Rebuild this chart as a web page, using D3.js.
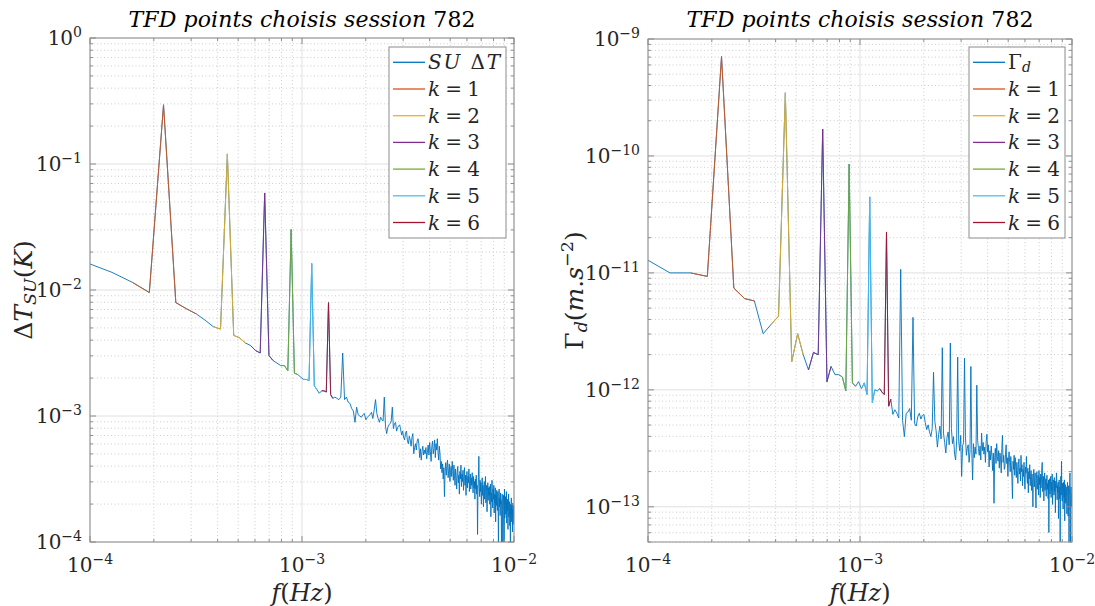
<!DOCTYPE html>
<html>
<head>
<meta charset="utf-8">
<script src="https://cdn.jsdelivr.net/npm/d3@7"></script>
<style>
  body { margin: 0; background: #fff; }
  svg text { fill: #262626; white-space: pre; }
</style>
</head>
<body>
<div id="chart"></div>
<script>
// FFT bins: frequency = bin * freqStep, first plotted bin is firstBin
var freqStep = 3.175e-5;
var firstBin = 3;

// log10 of the amplitude, one value per bin (bins 3 .. 315)
var deltaTLog = [
  -1.78,-1.86,-1.94,-2.02,-0.53,-2.10,-2.15,-2.19,-2.24,-2.29,
  -2.31,-0.92,-2.36,-2.38,-2.42,-2.44,-2.48,-2.50,-1.23,-2.52,
  -2.56,-2.58,-2.60,-2.60,-2.64,-1.52,-2.66,-2.67,-2.69,-2.71,
  -2.71,-2.72,-1.79,-2.76,-2.79,-2.82,-2.80,-2.80,-2.81,-2.10,
  -2.83,-2.86,-2.85,-2.86,-2.87,-2.85,-2.50,-2.87,-2.85,-2.89,
  -2.90,-2.94,-2.96,-3.05,-2.93,-2.99,-3.00,-3.01,-2.99,-2.98,
  -3.03,-3.01,-3.00,-2.99,-2.97,-3.02,-2.95,-2.87,-2.98,-3.02,
  -3.05,-3.01,-3.03,-3.04,-2.85,-3.08,-3.14,-3.09,-3.07,-3.06,
  -3.04,-2.93,-3.10,-3.06,-3.05,-3.12,-3.09,-3.08,-3.07,-3.11,
  -3.15,-3.12,-3.17,-3.19,-3.13,-3.12,-3.20,-3.22,-3.16,-3.19,
  -3.24,-3.17,-3.14,-3.30,-3.25,-3.22,-3.27,-3.20,-3.18,-3.22,
  -3.33,-3.26,-3.35,-3.28,-3.24,-3.31,-3.27,-3.30,-3.25,-3.34,
  -3.29,-3.23,-3.31,-3.21,-3.28,-3.36,-3.24,-3.20,-3.30,-3.26,
  -3.19,-3.33,-3.22,-3.27,-3.18,-3.29,-3.35,-3.24,-3.30,-3.42,
  -3.36,-3.45,-3.38,-3.50,-3.41,-3.64,-3.44,-3.37,-3.47,-3.40,
  -3.35,-3.49,-3.43,-3.38,-3.52,-3.45,-3.40,-3.48,-3.36,-3.44,
  -3.51,-3.39,-3.47,-3.55,-3.42,-3.48,-3.58,-3.45,-3.40,-3.53,
  -3.47,-3.62,-3.44,-3.50,-3.39,-3.56,-3.46,-3.52,-3.43,-3.59,
  -3.49,-3.41,-3.55,-3.47,-3.63,-3.50,-3.44,-3.57,-3.48,-3.53,
  -3.42,-3.60,-3.51,-3.46,-3.58,-3.49,-3.55,-3.45,-3.54,-3.61,
  -3.48,-3.57,-3.52,-3.66,-3.50,-3.58,-3.47,-3.62,-3.55,-3.94,
  -3.58,-3.49,-3.32,-3.56,-3.64,-3.51,-3.60,-3.53,-3.70,-3.57,
  -3.49,-3.63,-3.55,-3.72,-3.59,-3.52,-3.66,-3.58,-3.48,-3.69,
  -3.61,-3.55,-3.76,-3.60,-3.53,-3.67,-3.57,-3.63,-3.56,-3.70,
  -3.62,-3.54,-3.80,-3.61,-3.68,-3.51,-3.64,-3.73,-3.58,-3.66,
  -3.55,-3.77,-3.62,-3.69,-3.57,-3.84,-3.63,-3.71,-3.59,-3.68,
  -3.75,-3.60,-3.66,-4.05,-3.64,-3.58,-3.72,-3.65,-3.79,-3.61,
  -3.70,-3.67,-4.08,-3.69,-3.62,-3.74,-4.12,-3.68,-3.63,-3.76,
  -4.10,-3.58,-3.81,-3.70,-3.64,-3.78,-3.72,-3.60,-3.85,-3.69,
  -3.75,-3.66,-3.90,-3.71,-3.62,-3.80,-3.74,-3.68,-3.87,-3.73,
  -4.15,-3.70,-3.78,-3.65,-3.84,-3.76,-3.69,-3.92,-3.74,-3.80,
  -3.71,-3.86,-3.79
];

var gammaLog = [
  -10.87,-11.00,-11.00,-11.03,-9.15,-11.13,-11.22,-11.24,-11.52,-11.44,
  -11.37,-9.46,-11.76,-11.52,-11.70,-11.83,-11.68,-11.70,-9.77,-11.93,
  -11.80,-11.87,-11.87,-11.89,-12.01,-10.07,-11.94,-11.97,-11.93,-11.99,
  -11.94,-12.04,-10.35,-12.11,-12.00,-12.01,-11.99,-12.02,-12.04,-10.65,
  -12.14,-12.08,-12.21,-12.17,-12.20,-12.24,-10.97,-12.26,-12.40,-12.20,
  -12.19,-12.16,-12.26,-11.38,-12.29,-12.31,-12.23,-12.20,-12.25,-12.22,
  -12.21,-12.28,-12.34,-12.30,-12.36,-12.40,-12.33,-11.85,-12.27,-12.35,
  -12.49,-12.38,-12.31,-12.42,-11.64,-12.37,-12.45,-12.54,-12.41,-12.36,
  -12.47,-11.60,-12.33,-12.46,-12.40,-12.55,-12.60,-12.43,-11.72,-12.44,
  -12.52,-12.39,-12.74,-12.48,-12.45,-11.73,-12.40,-12.56,-12.50,-12.47,
  -12.62,-12.53,-11.80,-12.51,-12.77,-12.46,-12.58,-12.49,-12.55,-11.96,
  -12.43,-12.50,-12.56,-12.48,-12.60,-12.37,-12.52,-12.45,-12.55,-12.49,
  -12.62,-12.44,-12.38,-12.53,-12.47,-12.66,-12.52,-12.60,-12.48,-12.57,
  -12.69,-12.54,-12.97,-12.58,-12.50,-12.63,-12.46,-12.57,-12.61,-12.52,
  -12.67,-12.54,-12.59,-12.71,-12.50,-12.39,-12.62,-12.56,-12.68,-12.66,
  -12.55,-12.47,-12.63,-12.58,-12.74,-12.60,-12.53,-12.62,-12.70,-12.57,
  -12.65,-12.76,-12.93,-12.61,-12.68,-12.56,-12.73,-12.58,-12.66,-12.75,
  -12.62,-12.69,-12.80,-12.64,-12.59,-12.72,-12.67,-12.78,-12.56,-12.70,
  -12.64,-12.82,-12.68,-12.74,-12.62,-12.77,-12.85,-12.66,-12.71,-12.57,
  -12.73,-12.80,-12.67,-12.88,-12.70,-12.76,-12.64,-12.82,-12.74,-12.69,
  -12.86,-12.72,-12.79,-13.00,-12.75,-12.68,-12.83,-12.77,-12.71,-12.88,
  -13.01,-12.76,-12.70,-12.85,-12.79,-12.73,-12.90,-12.69,-12.81,-12.75,
  -12.92,-12.72,-12.84,-12.78,-12.66,-12.62,-12.87,-12.80,-12.74,-12.95,
  -12.79,-12.71,-12.86,-12.82,-12.76,-12.91,-12.78,-12.73,-12.85,-12.80,
  -12.93,-12.77,-13.22,-12.84,-12.76,-12.89,-12.81,-12.74,-12.92,-12.79,
  -12.86,-12.72,-12.98,-12.83,-12.77,-12.80,-12.90,-12.75,-12.87,-12.81,
  -13.05,-12.78,-12.84,-12.71,-12.76,-12.94,-12.82,-12.88,-12.79,-13.10,
  -12.85,-12.77,-12.93,-12.83,-13.30,-12.86,-12.74,-12.90,-12.61,-12.84,
  -12.95,-12.80,-12.88,-13.02,-12.79,-12.86,-12.92,-12.77,-13.12,-12.85,
  -12.81,-12.97,-12.88,-12.83,-12.91,-13.06,-12.84,-12.79,-12.93,-13.08,
  -12.87,-12.82,-13.35,-12.90,-12.84,-12.71,-12.95,-13.32,-12.89,-12.83,
  -13.00,-12.92,-12.88
];

// bins drawn in colour around each harmonic k
var harmonicK = [1, 2, 3, 4, 5, 6];
var harmonicFrom = [5, 12, 18, 25, 32, 39];
var harmonicTo = [10, 17, 23, 30, 37, 44];
var harmonicColors = ["#D95319", "#EDB120", "#7E2F8E", "#77AC30", "#4DBEEE", "#A2142F"];
var mainColor = "#0072BD";

// tick labels are 10^exp
var xTickExp = [-4, -3, -2];
var leftTickExp = [-4, -3, -2, -1, 0];
var rightTickExp = [-13, -12, -11, -10, -9];

var titleText = "TFD points choisis session 782";
var xLabelText = "f(Hz)";
var leftYLabel = "ΔT_{SU}(K)";
var rightYLabel = "Γ_{d}(m.s^{−2})";
var leftSeriesName = "SU ΔT";
var rightSeriesName = "Γ_{d}";

var axisColor = "#8c8c8c";
var serif = "'DejaVu Serif', 'Liberation Serif', 'Noto Serif', serif";

var svg = d3.select("#chart").append("svg")
  .attr("width", 1095)
  .attr("height", 606)
  .attr("font-family", serif);

// latex-like text: letters italic, the rest upright, _{..} and ^{..}
function mathText(sel, str, size) {
  var shift = 0;
  sel.attr("font-family", serif);
  var re = /([_^])\{([^}]*)\}|([^_^]+)/g, m;
  while ((m = re.exec(str)) !== null) {
    var part = m[1] ? m[2] : m[3];
    var fs = m[1] ? size * 0.7 : size;
    var target = m[1] === "^" ? -0.4 * size : (m[1] === "_" ? 0.15 * size : 0);
    part.match(/[A-Za-z]+|[^A-Za-z]+/g).forEach(function(b, i) {
      var ts = sel.append("tspan")
        .attr("font-size", fs)
        .attr("font-style", /[A-Za-z]/.test(b) ? "italic" : "normal")
        .text(b);
      if (i === 0 && target !== shift) {
        ts.attr("dy", target - shift);
        shift = target;
      }
    });
  }
  return sel;
}

var panels = [
  { left: 90, right: 514, top: 38, bottom: 542, yMin: 1e-4, yMax: 1,
    values: deltaTLog, yTicks: leftTickExp, yLabel: leftYLabel, yLabelX: 32,
    name: leftSeriesName, nameLen: 72, legendX: 389, legendW: 117 },
  { left: 648, right: 1072, top: 39, bottom: 542, yMin: 5e-14, yMax: 1e-9,
    values: gammaLog, yTicks: rightTickExp, yLabel: rightYLabel, yLabelX: 583,
    name: rightSeriesName, nameLen: null, legendX: 969, legendW: 96 }
];

panels.forEach(function(p, n) {
  var x = d3.scaleLog().domain([1e-4, 1e-2]).range([p.left, p.right]);
  var y = d3.scaleLog().domain([p.yMin, p.yMax]).range([p.bottom, p.top]);
  var cx = (p.left + p.right) / 2, cy = (p.top + p.bottom) / 2;
  var g = svg.append("g");

  var isMajor = function(v) {
    var l = Math.log10(v);
    return Math.abs(l - Math.round(l)) < 1e-6;
  };
  var xt = x.ticks(), yt = y.ticks();

  // grid, minor dotted then major solid
  var grid = g.append("g");
  [false, true].forEach(function(major) {
    xt.filter(function(t) { return isMajor(t) === major; }).forEach(function(t) {
      grid.append("line")
        .attr("x1", x(t)).attr("x2", x(t)).attr("y1", p.top).attr("y2", p.bottom)
        .attr("stroke", major ? "#e0e0e0" : "#cdcdcd")
        .attr("stroke-dasharray", major ? null : "1,2.5");
    });
    yt.filter(function(t) { return isMajor(t) === major; }).forEach(function(t) {
      grid.append("line")
        .attr("x1", p.left).attr("x2", p.right).attr("y1", y(t)).attr("y2", y(t))
        .attr("stroke", major ? "#e0e0e0" : "#cdcdcd")
        .attr("stroke-dasharray", major ? null : "1,2.5");
    });
  });

  // spectrum
  var pts = p.values.map(function(v, i) {
    return { f: (firstBin + i) * freqStep, a: Math.pow(10, v) };
  });
  var line = d3.line().x(function(d) { return x(d.f); }).y(function(d) { return y(d.a); });

  g.append("clipPath").attr("id", "clip" + n)
    .append("rect")
    .attr("x", p.left).attr("y", p.top)
    .attr("width", p.right - p.left).attr("height", p.bottom - p.top);
  var plot = g.append("g").attr("clip-path", "url(#clip" + n + ")");

  plot.append("path").datum(pts)
    .attr("d", line).attr("fill", "none")
    .attr("stroke", mainColor).attr("stroke-width", 0.9);

  harmonicK.forEach(function(k, j) {
    plot.append("path")
      .datum(pts.slice(harmonicFrom[j] - firstBin, harmonicTo[j] - firstBin + 1))
      .attr("d", line).attr("fill", "none")
      .attr("stroke", harmonicColors[j]).attr("stroke-width", 0.9);
  });

  // box and ticks (inside, on all four sides)
  g.append("rect")
    .attr("x", p.left).attr("y", p.top)
    .attr("width", p.right - p.left).attr("height", p.bottom - p.top)
    .attr("fill", "none").attr("stroke", axisColor);
  xt.forEach(function(t) {
    var len = isMajor(t) ? 6 : 3;
    g.append("line").attr("x1", x(t)).attr("x2", x(t)).attr("y1", p.bottom).attr("y2", p.bottom - len).attr("stroke", axisColor);
    g.append("line").attr("x1", x(t)).attr("x2", x(t)).attr("y1", p.top).attr("y2", p.top + len).attr("stroke", axisColor);
  });
  yt.forEach(function(t) {
    var len = isMajor(t) ? 6 : 3;
    g.append("line").attr("x1", p.left).attr("x2", p.left + len).attr("y1", y(t)).attr("y2", y(t)).attr("stroke", axisColor);
    g.append("line").attr("x1", p.right).attr("x2", p.right - len).attr("y1", y(t)).attr("y2", y(t)).attr("stroke", axisColor);
  });

  // tick labels
  xTickExp.forEach(function(e) {
    mathText(g.append("text").attr("x", x(Math.pow(10, e))).attr("y", 572).attr("text-anchor", "middle"),
      "10^{" + String(e).replace("-", "−") + "}", 20);
  });
  p.yTicks.forEach(function(e) {
    mathText(g.append("text").attr("x", p.left - 8).attr("y", y(Math.pow(10, e)) + 7).attr("text-anchor", "end"),
      "10^{" + String(e).replace("-", "−") + "}", 20);
  });

  // title and axis labels
  mathText(g.append("text").attr("x", cx).attr("y", 27).attr("text-anchor", "middle")
    .attr("textLength", 347).attr("lengthAdjust", "spacing").style("fill", "#000"), titleText, 22);
  mathText(g.append("text").attr("x", cx).attr("y", 601).attr("text-anchor", "middle"), xLabelText, 24);
  mathText(g.append("text")
    .attr("transform", "translate(" + p.yLabelX + "," + cy + ") rotate(-90)")
    .attr("text-anchor", "middle"), p.yLabel, 25);

  // legend
  var names = [p.name].concat(harmonicK.map(function(k) { return "k = " + k; }));
  var colors = [mainColor].concat(harmonicColors);
  var leg = g.append("g");
  leg.append("rect")
    .attr("x", p.legendX).attr("y", 47).attr("width", p.legendW).attr("height", 191)
    .attr("fill", "#fff").attr("stroke", axisColor);
  names.forEach(function(name, i) {
    var ry = 62.3 + i * 26.7;
    leg.append("line")
      .attr("x1", p.legendX + 4).attr("x2", p.legendX + 36).attr("y1", ry).attr("y2", ry)
      .attr("stroke", colors[i]).attr("stroke-width", 1.3);
    var t = leg.append("text").attr("x", p.legendX + 39).attr("y", ry + 7);
    var len = i === 0 ? p.nameLen : 52;
    if (len) t.attr("textLength", len).attr("lengthAdjust", "spacing");
    mathText(t, name, 20);
  });
});
</script>
</body>
</html>
